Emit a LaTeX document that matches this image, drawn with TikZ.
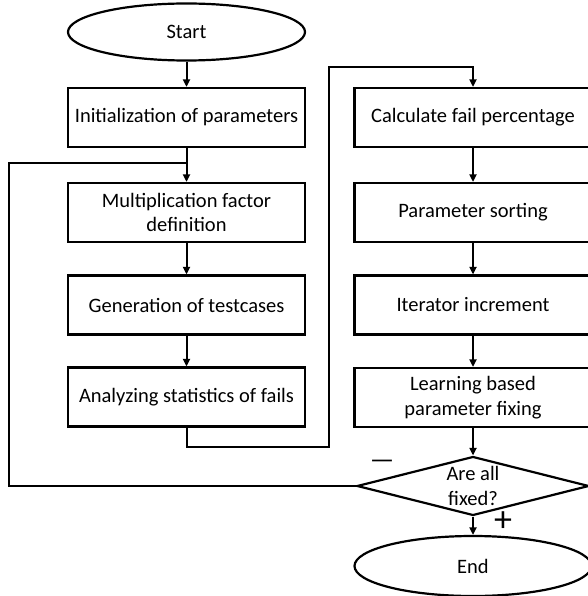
\documentclass[tikz,border=0pt]{standalone}
\usepackage{fontspec}
\setmainfont{Carlito}
\usetikzlibrary{shapes.geometric,arrows.meta}
\begin{document}
\begin{tikzpicture}[x=1pt,y=-1pt,
  every node/.style={font=\fontsize{20.5}{24.5}\selectfont, align=center, inner sep=0pt},
  procbox/.style={draw, line width=2.2pt, minimum width=237pt, minimum height=59pt},
  terminal/.style={draw, ellipse, line width=2.2pt, minimum width=237pt, minimum height=57pt},
  decision/.style={draw, diamond, line width=2.2pt, minimum width=232pt, minimum height=59pt},
  link/.style={line width=2pt},
  flow/.style={link, -{Triangle[width=7pt,length=7.5pt]}},
  sign/.style={font=\fontsize{36}{36}\selectfont}
]
\useasboundingbox (0,0) rectangle (587,596);

% left column
\node[terminal] (start) at (186.5,32) {Start};
\node[procbox] (init) at (186.5,117.5) {Initialization of parameters};
\node[procbox] (mult) at (186.5,212.5) {Multiplication factor\\definition};
\node[procbox] (gen)  at (186.5,305) {Generation of testcases};
\node[procbox] (anal) at (186.5,397) {Analyzing statistics of fails};

% right column
\node[procbox] (calc)  at (473,117.5) {Calculate fail percentage};
\node[procbox] (sort)  at (473,212.5) {Parameter sorting};
\node[procbox] (iter)  at (473,305) {Iterator increment};
\node[procbox] (learn) at (473,397.5) {Learning based\\parameter fixing};
\node[decision] (dec) at (473,486) {};
\node (dectext) at (dec) {Are all\\fixed?};
\node[terminal, minimum height=60pt] (finish) at (473,566) {End};

% routing points
\coordinate (loopL) at (9,163);
\coordinate (join)  at (186.5,163);
\coordinate (b1) at (329,447);
\coordinate (t1) at (329,67);

% connectors
\draw[flow] (start) -- (init);
\draw[flow] (init) -- (mult);
\draw[flow] (mult) -- (gen);
\draw[flow] (gen) -- (anal);
\draw[flow] (anal.south) |- (b1) -- (t1) -| (calc.north);
\draw[flow] (calc) -- (sort);
\draw[flow] (sort) -- (iter);
\draw[flow] (iter) -- (learn);
\draw[flow] (learn) -- (dec);
\draw[flow] (dec) -- (finish);
\draw[link] (dec.west) -| (loopL) -- (join);

% branch signs
\node[sign, font=\fontsize{27}{27}\selectfont] (minus) at (382,464) {—};
\node[sign] (plus) at (503,522) {+};
\end{tikzpicture}
\end{document}
